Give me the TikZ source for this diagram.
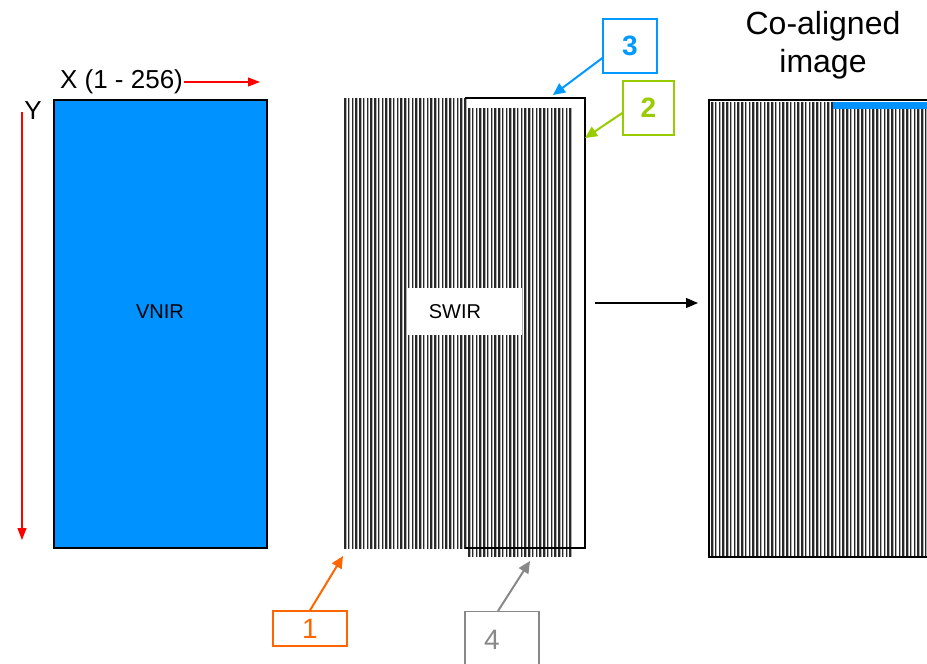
\documentclass[tikz,border=0pt]{standalone}
\usepackage{fontspec}
\setmainfont{Liberation Sans}
\usetikzlibrary{arrows.meta}
\definecolor{vnirblue}{RGB}{0,146,255}
\definecolor{axisred}{RGB}{255,0,0}
\definecolor{tagorange}{RGB}{255,102,0}
\definecolor{taggreen}{RGB}{153,204,0}
\definecolor{tagblue}{RGB}{0,153,255}
\definecolor{taggray}{RGB}{136,136,136}
\definecolor{stripedark}{RGB}{40,40,40}
\definecolor{stripelight}{RGB}{175,175,175}
% vertical stripes: first x, number of stripes, top y, height
\newcommand\stripefill[4]{%
  \foreach \i in {0,...,#2} {%
    \pgfmathsetmacro\xx{#1+3.75*\i}
    \fill[stripedark] (\xx,#3) rectangle ++(1.6,#4);
    \fill[stripelight] (\xx+1.6,#3) rectangle ++(1,#4);
  }}
\tikzset{
  tag/.style={draw=#1, text=#1, line width=1.3pt, font=\fontsize{28}{32}\selectfont},
  tagarrow/.style={draw=#1, line width=2pt, -{Triangle[length=12pt,width=11pt]}},
  axisarrow/.style={draw=axisred, line width=1.2pt, -{Triangle[length=12pt,width=9pt]}}
}
\begin{document}
\begin{tikzpicture}[x=1pt,y=-1pt]
\useasboundingbox (0,0) rectangle (927,664);
% VNIR
\node[draw, fill=vnirblue, line width=2pt, minimum width=213pt, minimum height=448pt,
  inner sep=0pt] (vnir) at (160.5,324) {};
\node[font=\fontsize{20}{24}\selectfont] (vnirlab) at (160,312) {VNIR};
\node[font=\fontsize{26}{30}\selectfont, inner sep=1pt] (xlab) at (121.5,82) {X (1 - 256)};
\coordinate (xend) at (260,82);
\draw[axisarrow] (xlab.east) -- (xend);
\node[font=\fontsize{26}{30}\selectfont] (ylab) at (33,111) {Y};
\coordinate (ytop) at (22,112);
\coordinate (yend) at (22,540);
\draw[axisarrow] (ytop) -- (yend);
% SWIR
\stripefill{344}{32}{98}{451}
\stripefill{468}{27}{108}{449}
\draw[line width=2pt] (465,98) -- (585,98) -- (585,548) -- (465,548);
\node[fill=white, minimum width=115pt, minimum height=47pt, inner sep=0pt] (swirbox) at (464.5,311.5) {};
\node[font=\fontsize{20}{24}\selectfont] (swir) at (455,312) {SWIR};
% co-aligned image
\stripefill{711}{60}{102}{455}
\fill[vnirblue] (833,102) rectangle (927,109);
\draw[line width=2.4pt] (927,100) -- (709,100) -- (709,557) -- (927,557);
\node[align=center, font=\fontsize{32}{38}\selectfont] (colab) at (823,45) {Co-aligned\\image};
\coordinate (mstart) at (595,303);
\coordinate (mend) at (698,303);
\draw[line width=1.2pt, -{Triangle[length=12pt,width=10pt]}] (mstart) -- (mend);
% numbered tags
\node[tag=tagblue, minimum width=54pt, minimum height=54pt, font=\fontsize{28}{32}\bfseries] (t3) at (630,46) {3};
\node[tag=taggreen, minimum width=51pt, minimum height=54pt, font=\fontsize{28}{32}\bfseries] (t2) at (648.5,108) {2};
\node[tag=tagorange, minimum width=74pt, minimum height=35pt, inner sep=0pt] (t1) at (310,628.5) {1};
\node[tag=taggray, minimum width=74pt, minimum height=70pt, anchor=north] (t4) at (502,611) {};
\node[text=taggray, font=\fontsize{28}{32}\selectfont] (t4lab) at (492,640) {4};
\coordinate (p3) at (553,95);
\coordinate (p2) at (585,138);
\coordinate (p1) at (343,556);
\coordinate (p4) at (530,561);
\draw[tagarrow=tagblue] (t3.west |- 0,58) -- (p3);
\draw[tagarrow=taggreen] (t2.west |- 0,113) -- (p2);
\draw[tagarrow=tagorange] (t1.north) -- (p1);
\draw[tagarrow=taggray] (t4.north -| 498,0) -- (p4);
\end{tikzpicture}
\end{document}
